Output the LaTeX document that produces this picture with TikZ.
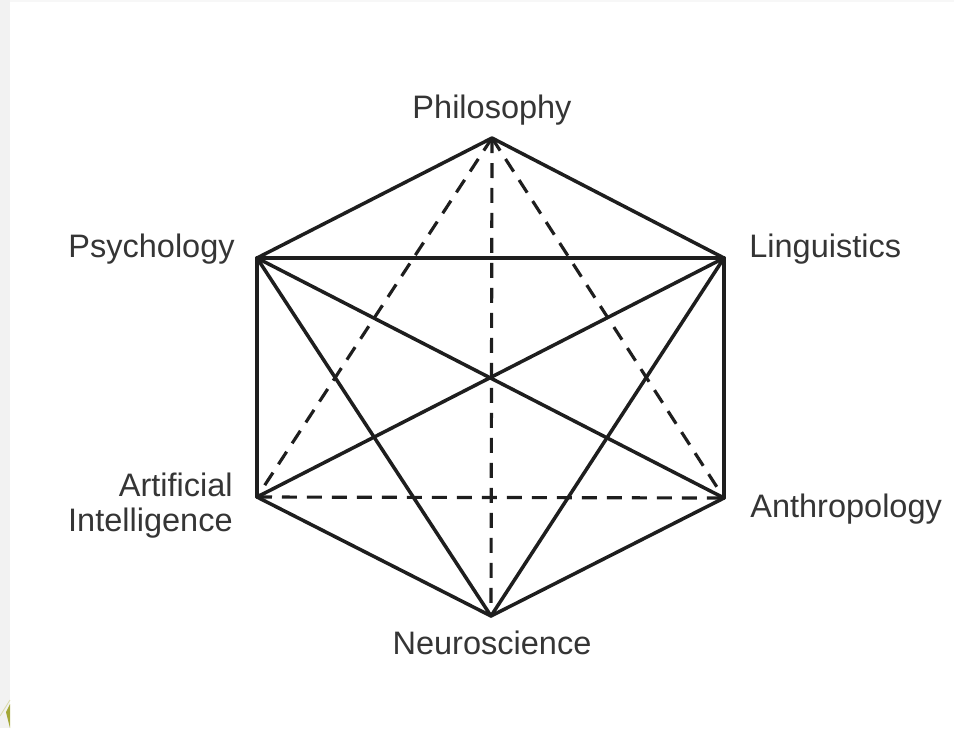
\documentclass[tikz,border=0pt]{standalone}
\usepackage{fontspec}
\setmainfont{Liberation Sans}
\usetikzlibrary{positioning}
\definecolor{inkGray}{HTML}{1E1E1E}
\definecolor{leafGreen}{HTML}{A4A838}
\tikzset{
  vtx/.style={coordinate},
  field/.style={font=\fontsize{18.5}{19.9}\selectfont, text=inkGray!90, inner sep=0pt},
  link/.style={line width=2pt, draw=inkGray, line cap=round, line join=round},
  dlink/.style={line width=1.8pt, draw=inkGray, dash pattern=on 0.3cm off 0.2cm}
}

\begin{document}
\begin{tikzpicture}[x=0.02cm,y=-0.02cm]
  \useasboundingbox (0,0) rectangle (954,728);
  \fill[gray!10] (0,0) rectangle (10,728);
  \fill[gray!6] (10,0) rectangle (954,2);
  \fill[leafGreen] (10,728) -- (6,712) -- (10,704) -- cycle;
  \draw[leafGreen!40, line width=0.5pt] (0,716) -- (10,700);
  % corners of the hexagon
  \node[vtx] (phil) at (492,138) {};
  \node[vtx] (ling) at (724,258) {};
  \node[vtx] (anth) at (724,498) {};
  \node[vtx] (neuro) at (491,616) {};
  \node[vtx] (ai) at (257,497) {};
  \node[vtx] (psych) at (257,258) {};
  % fields
  \node[field, anchor=base] (philT) at (492,118) {Philosophy};
  \node[field, anchor=base east] (psychT) at (235,257) {Psychology};
  \node[field, anchor=base west] (lingT) at (749,257) {Linguistics};
  \node[field, anchor=east, align=right] (aiT) at (233,506) {Artificial\\Intelligence};
  \node[field, anchor=base west] (anthT) at (750,517) {Anthropology};
  \node[field, anchor=base] (neuroT) at (492,654) {Neuroscience};
  % links
  \foreach \a/\b in {phil/ling,ling/anth,anth/neuro,neuro/ai,ai/psych,psych/phil,
                     psych/ling,psych/anth,psych/neuro,ling/ai,ling/neuro}
    \draw[link] (\a) -- (\b);
  \foreach \a/\b in {phil/ai,phil/neuro,phil/anth,ai/anth}
    \draw[dlink] (\a) -- (\b);
\end{tikzpicture}
\end{document}
